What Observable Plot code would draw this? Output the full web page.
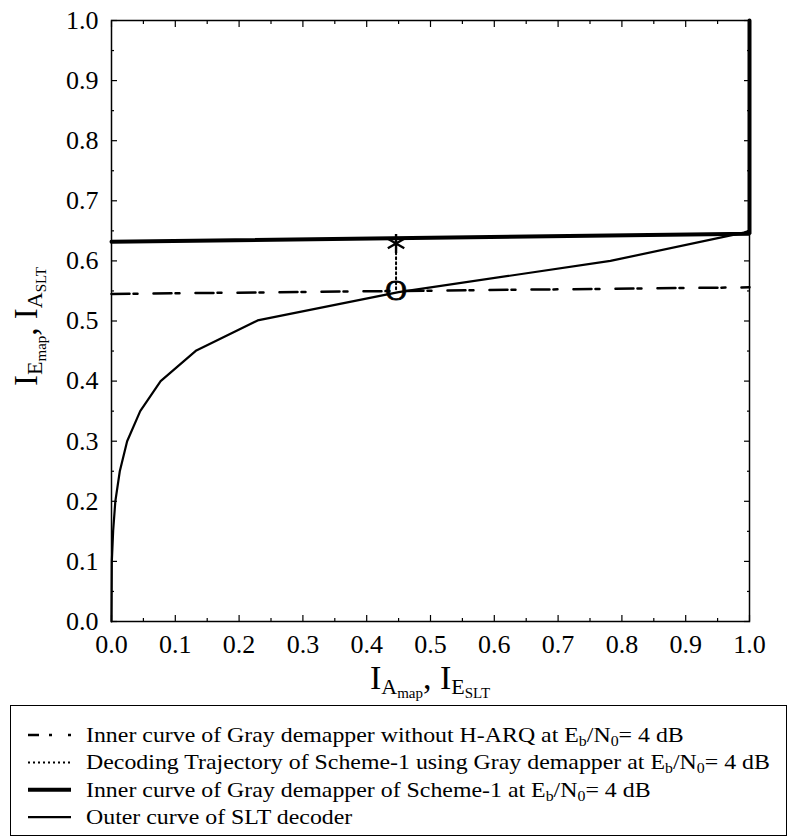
<!DOCTYPE html>
<html>
<head>
<meta charset="utf-8">
<script src="https://cdn.jsdelivr.net/npm/d3@7"></script>
<script src="https://cdn.jsdelivr.net/npm/@observablehq/plot@0.6"></script>
<style>
  html, body { margin: 0; padding: 0; background: white; }
  body { width: 790px; height: 836px; position: relative; overflow: hidden; font-family: "Liberation Serif", "Times New Roman", serif; }
  #chart { position: absolute; left: 0; top: 0; }
  #legend { position: absolute; left: 10px; top: 705px; width: 777px; height: 131px; border: 1.5px solid black; box-sizing: border-box; background: white; }
</style>
</head>
<body>
<div id="chart"></div>
<div id="legend"></div>
<script>
// ---- data ----
const majorTicks = [0, 0.1, 0.2, 0.3, 0.4, 0.5, 0.6, 0.7, 0.8, 0.9, 1.0];
const minorTicks = [0.05, 0.15, 0.25, 0.35, 0.45, 0.55, 0.65, 0.75, 0.85, 0.95];

// Outer curve of SLT decoder
const outerX = [0, 0.0005, 0.0026, 0.006, 0.013, 0.0245, 0.045, 0.077, 0.133, 0.229, 0.45, 0.782, 0.991, 1.0];
const outerY = [0, 0.10, 0.151, 0.20, 0.25, 0.30, 0.35, 0.40, 0.451, 0.501, 0.548, 0.600, 0.647, 0.65];

// Inner curve of Gray demapper of Scheme-1 (thick)
const scheme1X = [0, 1.0, 1.0];
const scheme1Y = [0.632, 0.645, 1.0];

// Inner curve of Gray demapper without H-ARQ (dash-dot)
const noHarqX = [0, 1.0];
const noHarqY = [0.545, 0.556];

// Decoding trajectory (dotted) : start (circle) -> end (asterisk)
const trajX = [0.446, 0.446];
const trajY = [0.553, 0.629];

const legendLabels = [
  "Inner curve of Gray demapper without H-ARQ at E_b/N_0= 4 dB",
  "Decoding Trajectory of Scheme-1 using Gray demapper at E_b/N_0= 4 dB",
  "Inner curve of Gray demapper of Scheme-1 at E_b/N_0= 4 dB",
  "Outer curve of SLT decoder"
];

const styles = [
  {strokeWidth: 2.5, dash: "18,4,4,16", legendDash: "11,10,3,16,3"},
  {strokeWidth: 2, dash: "2,3", legendDash: "2,3"},
  {strokeWidth: 4, dash: null, legendDash: null},
  {strokeWidth: 2.2, dash: null, legendDash: null}
];

const toRows = (xs, ys) => xs.map((x, i) => ({x, y: ys[i]}));
const outer = toRows(outerX, outerY);
const scheme1 = toRows(scheme1X, scheme1Y);
const noHarq = toRows(noHarqX, noHarqY);
const traj = toRows(trajX, trajY);

const serif = "Liberation Serif";
const fmt = d3.format(".1f");
const tickText = {tickSize: 0, tickPadding: 13, tickFormat: fmt, fontSize: 26, fontFamily: serif, label: null};

const plot = Plot.plot({
  width: 790,
  height: 702,
  marginLeft: 111,
  marginRight: 41,
  marginTop: 20,
  marginBottom: 81,
  style: {fontFamily: serif, background: "white", color: "black", overflow: "visible"},
  x: {domain: [0, 1]},
  y: {domain: [0, 1]},
  marks: [
    // tick labels
    Plot.axisX(majorTicks, {anchor: "bottom", ...tickText}),
    Plot.axisY(majorTicks, {anchor: "left", ...tickText}),
    // inward major ticks
    Plot.axisX(majorTicks, {anchor: "bottom", tickSize: 6, dy: -6, text: null, label: null, strokeWidth: 1.2}),
    Plot.axisX(majorTicks, {anchor: "top", tickSize: 6, dy: 6, text: null, label: null, strokeWidth: 1.2}),
    Plot.axisY(majorTicks, {anchor: "left", tickSize: 6, dx: 6, text: null, label: null, strokeWidth: 1.2}),
    Plot.axisY(majorTicks, {anchor: "right", tickSize: 6, dx: -6, text: null, label: null, strokeWidth: 1.2}),
    // inward minor ticks
    Plot.axisX(minorTicks, {anchor: "bottom", tickSize: 3, dy: -3, text: null, label: null, strokeWidth: 1.2}),
    Plot.axisX(minorTicks, {anchor: "top", tickSize: 3, dy: 3, text: null, label: null, strokeWidth: 1.2}),
    Plot.axisY(minorTicks, {anchor: "left", tickSize: 3, dx: 3, text: null, label: null, strokeWidth: 1.2}),
    Plot.axisY(minorTicks, {anchor: "right", tickSize: 3, dx: -3, text: null, label: null, strokeWidth: 1.2}),
    Plot.frame({stroke: "black", strokeWidth: 1.5}),
    // curves
    Plot.line(outer, {x: "x", y: "y", stroke: "black", strokeWidth: styles[3].strokeWidth, strokeLinejoin: "miter"}),
    Plot.line(noHarq, {x: "x", y: "y", stroke: "black", strokeWidth: styles[0].strokeWidth, strokeDasharray: styles[0].dash}),
    Plot.line(scheme1, {x: "x", y: "y", stroke: "black", strokeWidth: styles[2].strokeWidth, strokeLinejoin: "miter"}),
    Plot.line(traj, {x: "x", y: "y", stroke: "black", strokeWidth: styles[1].strokeWidth, strokeDasharray: styles[1].dash}),
    // trajectory markers
    Plot.text([traj[0]], {x: "x", y: "y", text: () => "O", fontSize: 30, fontFamily: serif, fill: "black", stroke: "black", strokeWidth: 0.8, lineAnchor: "middle", dy: 1}),
    Plot.dot([traj[1]], {x: "x", y: "y", symbol: "asterisk", r: 9, stroke: "black", strokeWidth: 2.4})
  ]
});
document.getElementById("chart").appendChild(plot);

// ---- axis titles with nested subscripts ----
const svg = d3.select(plot);
const xs = plot.scale("x"), ys = plot.scale("y");
function addLabel(sel, main1, sub1, subsub1, main2, sub2, subsub2) {
  sel.append("tspan").text(main1);
  sel.append("tspan").attr("font-size", 22).attr("dy", 5).text(sub1);
  sel.append("tspan").attr("font-size", 15).attr("dy", 4).text(subsub1);
  sel.append("tspan").attr("dy", -9).text(", " + main2);
  sel.append("tspan").attr("font-size", 22).attr("dy", 5).text(sub2);
  sel.append("tspan").attr("font-size", 15).attr("dy", 4).text(subsub2);
}
const xl = svg.append("text")
  .attr("x", (xs.apply(0) + xs.apply(1)) / 2)
  .attr("y", ys.apply(0) + 68)
  .attr("text-anchor", "middle")
  .attr("font-size", 34)
  .attr("font-family", serif)
  .attr("fill", "black");
addLabel(xl, "I", "A", "map", "I", "E", "SLT");

const ylx = 37, yly = (ys.apply(0) + ys.apply(1)) / 2 + 6;
const yl = svg.append("text")
  .attr("transform", `translate(${ylx},${yly}) rotate(-90)`)
  .attr("text-anchor", "middle")
  .attr("font-size", 33)
  .attr("font-family", serif)
  .attr("fill", "black");
addLabel(yl, "I", "E", "map", "I", "A", "SLT");

// ---- legend ----
const lg = d3.select("#legend").append("svg").attr("width", 775).attr("height", 128).style("display", "block");
const texts = [];
legendLabels.forEach((label, i) => {
  const yLine = 29 + i * 27.4;
  const st = styles[i];
  const ln = lg.append("line").attr("x1", 17).attr("x2", 60).attr("y1", yLine).attr("y2", yLine)
    .attr("stroke", "black").attr("stroke-width", st.strokeWidth);
  if (st.legendDash) ln.attr("stroke-dasharray", st.legendDash);
  const t = lg.append("text").attr("font-size", 21)
    .attr("font-family", serif).attr("fill", "black")
    .datum(yLine + 7);
  const parts = label.split(/_(\w)/);
  parts.forEach((p, k) => {
    if (k % 2 === 1) {
      t.append("tspan").attr("font-size", 14).attr("dy", 4).text(p);
    } else if (p.length) {
      const ts = t.append("tspan").text(p);
      if (k > 0) ts.attr("dy", -4);
    }
  });
  texts.push(t);
});
// the reference type is slightly wide: stretch to match the first row's width
const w0 = texts[0].node().getComputedTextLength();
const sx = w0 > 0 ? 598 / w0 : 1;
texts.forEach(t => t.attr("transform", d => `translate(75,${d}) scale(${sx},1)`));
</script>
</body>
</html>
